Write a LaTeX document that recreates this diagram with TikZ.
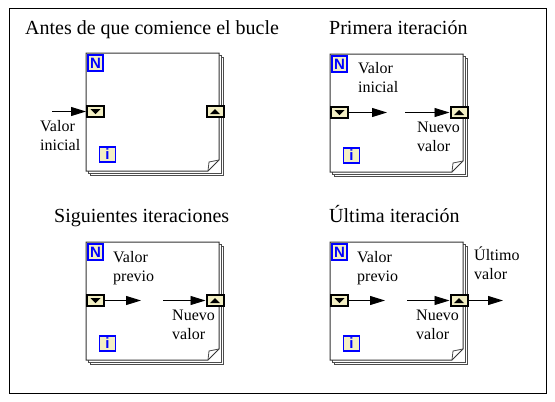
\documentclass[tikz,border=0pt]{standalone}
\usepackage{fontspec}
\setmainfont{Liberation Serif}
\newfontfamily\iconfont{Liberation Sans}
\usepackage{tikz}
\usetikzlibrary{arrows.meta}

\definecolor{regfill}{HTML}{F3EFC4}
\definecolor{iconblue}{HTML}{0000FF}

\begin{document}
\begin{tikzpicture}[x=1pt, y=-1pt,
    title/.style={anchor=base west, inner sep=0pt, font=\fontsize{20}{24}\selectfont},
    label/.style={anchor=base west, inner sep=0pt, align=left, font=\fontsize{16}{19}\selectfont},
    page/.style={draw=black!80, fill=white, line width=1pt},
    pageedge/.style={draw=black!70, fill=white, line width=1pt},
    flap/.style={draw=black!70, line width=0.8pt},
    iconbox/.style={rectangle, draw=iconblue, fill=regfill, line width=1.8pt, inner sep=0pt, minimum width=15pt, minimum height=16pt, text=iconblue, font=\iconfont\bfseries\fontsize{15}{15}\selectfont},
    regbox/.style={rectangle, draw=black, fill=regfill, line width=2pt, inner sep=0pt, minimum width=17pt, minimum height=11pt},
    flow/.style={-{Triangle[length=15pt, width=9pt]}, line width=0.9pt}]
        \useasboundingbox (0,0) rectangle (555,402);
        \draw[line width=0.9pt] (9,8) rectangle (546,393);

        % Titles
        \node[title] (t1) at (25,34) {Antes de que comience el bucle};
        \node[title] (t2) at (329,34) {Primera iteración};
        \node[title] (t3) at (54,222) {Siguientes iteraciones};
        \node[title] (t4) at (329,222) {Última iteración};

        % Loops
        \foreach \n/\x/\y in {1/86/53, 2/330/54, 3/86/242, 4/330/242} {
            \begin{scope}[shift={(\x,\y)}]
                \draw[pageedge] (4.5,4.5) rectangle (137.5,122.5);
                \draw[pageedge] (2,2) rectangle (135,120);
                \draw[page] (0,0) -- (133,0) -- (133,107) -- (122,118) -- (0,118) -- cycle;
                \draw[flap] (122,118) -- (123,109) -- (133,107);
                \node[iconbox] (N\n) at (9.5,10) {N};
                \node[iconbox, minimum width=16pt, minimum height=15pt] (i\n) at (21.5,101.5) {i};
                \node[regbox] (in\n) at (9.5,58.5) {};
                \node[regbox] (out\n) at (129,58.5) {};
                \fill ([shift={(-5,-2.5)}]in\n.center) -- ([shift={(5,-2.5)}]in\n.center) -- ([shift={(0,2.5)}]in\n.center) -- cycle;
                \fill ([shift={(-5,2.5)}]out\n.center) -- ([shift={(5,2.5)}]out\n.center) -- ([shift={(0,-2.5)}]out\n.center) -- cycle;
            \end{scope}
        }

        % Labels
        \node[label] (v1) at (40,150) {Valor\\inicial};
        \node[label] (v2) at (358,92) {Valor\\inicial};
        \node[label] (n2) at (417,151) {Nuevo\\valor};
        \node[label] (v3) at (113,281) {Valor\\previo};
        \node[label] (n3) at (172,339) {Nuevo\\valor};
        \node[label] (v4) at (357,281) {Valor\\previo};
        \node[label] (n4) at (416,339) {Nuevo\\valor};
        \node[label] (u4) at (474,279) {Último\\valor};

        % Wires
        \coordinate (s1) at (52,111.5);
        \coordinate (a2) at (387,112.5);
        \coordinate (b2) at (405,112.5);
        \coordinate (a3) at (141,300.5);
        \coordinate (b3) at (163,300.5);
        \coordinate (a4) at (385,300.5);
        \coordinate (b4) at (407,300.5);
        \coordinate (e4) at (503,300.5);
        \draw[flow] (s1) -- (in1);
        \draw[flow] (in2) -- (a2);
        \draw[flow] (b2) -- (out2);
        \draw[flow] (in3) -- (a3);
        \draw[flow] (b3) -- (out3);
        \draw[flow] (in4) -- (a4);
        \draw[flow] (b4) -- (out4);
        \draw[flow] (out4) -- (e4);
\end{tikzpicture}
\end{document}
